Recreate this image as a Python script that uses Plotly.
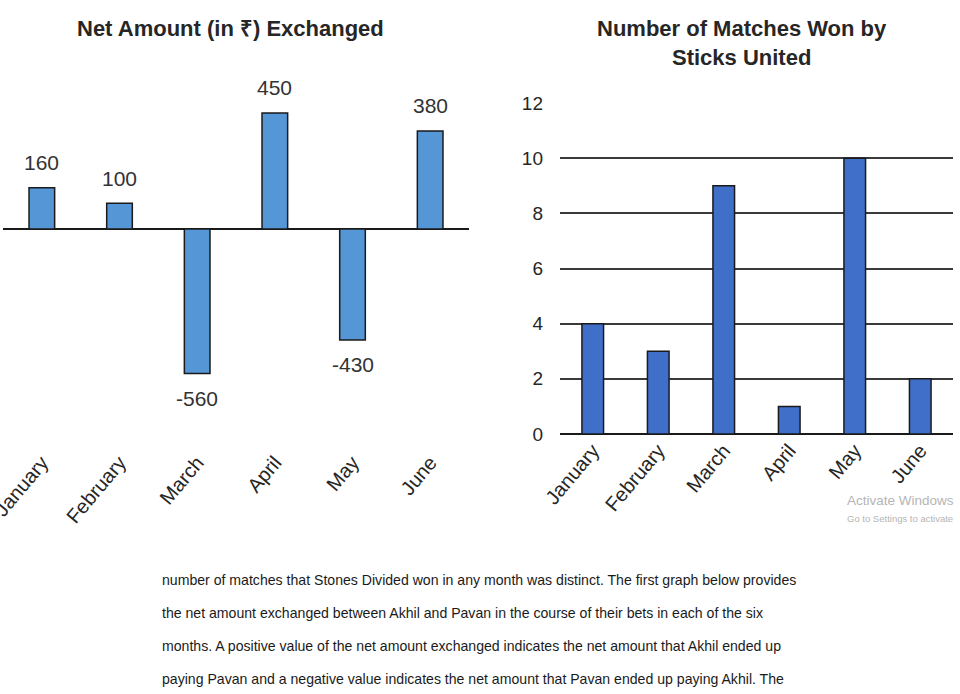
import plotly.graph_objects as go

months = ["January", "February", "March", "April", "May", "June"]
net_amount = [160, 100, -560, 450, -430, 380]
matches_won = [4, 3, 9, 1, 10, 2]
y_ticks_right = [0, 2, 4, 6, 8, 10, 12]

title_left = "Net Amount (in ₹) Exchanged"
title_right = "Number of Matches Won by<br>Sticks United"
paragraph = [
    "number of matches that Stones Divided won in any month was distinct. The first graph below provides",
    "the net amount exchanged between Akhil and Pavan in the course of their bets in each of the six",
    "months. A positive value of the net amount exchanged indicates the net amount that Akhil ended up",
    "paying Pavan and a negative value indicates the net amount that Pavan ended up paying Akhil. The",
]

W, H = 960, 694
FONT = "Liberation Sans Narrow, Arial Narrow, Liberation Sans, Arial, sans-serif"

def px(x):
    return x / W

def py(y):
    return 1 - y / H

fig = go.Figure()

fig.add_trace(go.Bar(
    x=months, y=net_amount, xaxis="x", yaxis="y",
    marker=dict(color="#5596d6", line=dict(color="#1a1a1a", width=1.5)),
    width=0.33, showlegend=False, hoverinfo="x+y",
))
fig.add_trace(go.Bar(
    x=months, y=matches_won, xaxis="x2", yaxis="y2",
    marker=dict(color="#3f6fc9", line=dict(color="#1a1a1a", width=1.5)),
    width=0.33, showlegend=False, hoverinfo="x+y",
))

annotations = []
for m, v in zip(months, net_amount):
    annotations.append(dict(
        x=m, y=v, xref="x", yref="y", text=str(v), showarrow=False,
        yshift=25 if v > 0 else -25,
        font=dict(family=FONT, size=21, color="#333333"),
    ))

annotations.append(dict(
    x=px(230), y=py(28), xref="paper", yref="paper", text="<b>" + title_left + "</b>",
    showarrow=False, font=dict(family=FONT, size=22, color="#262626"),
    xanchor="center", yanchor="middle",
))
annotations.append(dict(
    x=px(742), y=py(43), xref="paper", yref="paper", text="<b>" + title_right + "</b>",
    showarrow=False, font=dict(family=FONT, size=22, color="#262626"),
    xanchor="center", yanchor="middle",
))

for i, line in enumerate(paragraph):
    annotations.append(dict(
        x=px(160), y=py(580 + i * 33), xref="paper", yref="paper", text=line,
        showarrow=False, font=dict(family=FONT, size=14.1, color="#1a1a1a"),
        xanchor="left", yanchor="middle",
    ))

annotations.append(dict(
    x=px(845), y=py(500), xref="paper", yref="paper", text="Activate Windows",
    showarrow=False, font=dict(family="Liberation Sans, Arial, sans-serif", size=13.5, color="#b5b5b5"),
    xanchor="left", yanchor="middle",
))
annotations.append(dict(
    x=px(845), y=py(518), xref="paper", yref="paper", text="Go to Settings to activate",
    showarrow=False, font=dict(family="Liberation Sans, Arial, sans-serif", size=9.5, color="#b5b5b5"),
    xanchor="left", yanchor="middle",
))

fig.update_layout(
    width=W, height=H,
    margin=dict(l=0, r=0, t=0, b=0),
    paper_bgcolor="white", plot_bgcolor="white",
    font=dict(family=FONT, color="#262626"),
    bargap=0.67,
    xaxis=dict(
        domain=[px(3), px(469)], anchor="y", type="category", automargin=False,
        showgrid=False, showline=False, zeroline=False, ticks="",
        tickangle=-50, tickfont=dict(family=FONT, size=20, color="#262626"),
    ),
    yaxis=dict(
        domain=[py(446), py(60)], anchor="x", range=[-841, 655], automargin=False,
        showgrid=False, showticklabels=False, showline=False,
        zeroline=True, zerolinecolor="#1a1a1a", zerolinewidth=1.5,
    ),
    xaxis2=dict(
        domain=[px(560), px(953)], anchor="y2", type="category", automargin=False,
        showgrid=False, showline=False, zeroline=False, ticks="",
        tickangle=-50, tickfont=dict(family=FONT, size=20, color="#262626"),
    ),
    yaxis2=dict(
        domain=[py(434), py(103)], anchor="x2", range=[0, 12], automargin=False,
        tickvals=y_ticks_right, showgrid=True, gridcolor="#3a3a3a", gridwidth=1.5,
        zeroline=True, zerolinecolor="#1a1a1a", zerolinewidth=1.5,
        showline=False, ticks="", ticklabelstandoff=16,
        tickfont=dict(family=FONT, size=19, color="#262626"),
    ),
    annotations=annotations,
)

fig.write_html("out.html")
